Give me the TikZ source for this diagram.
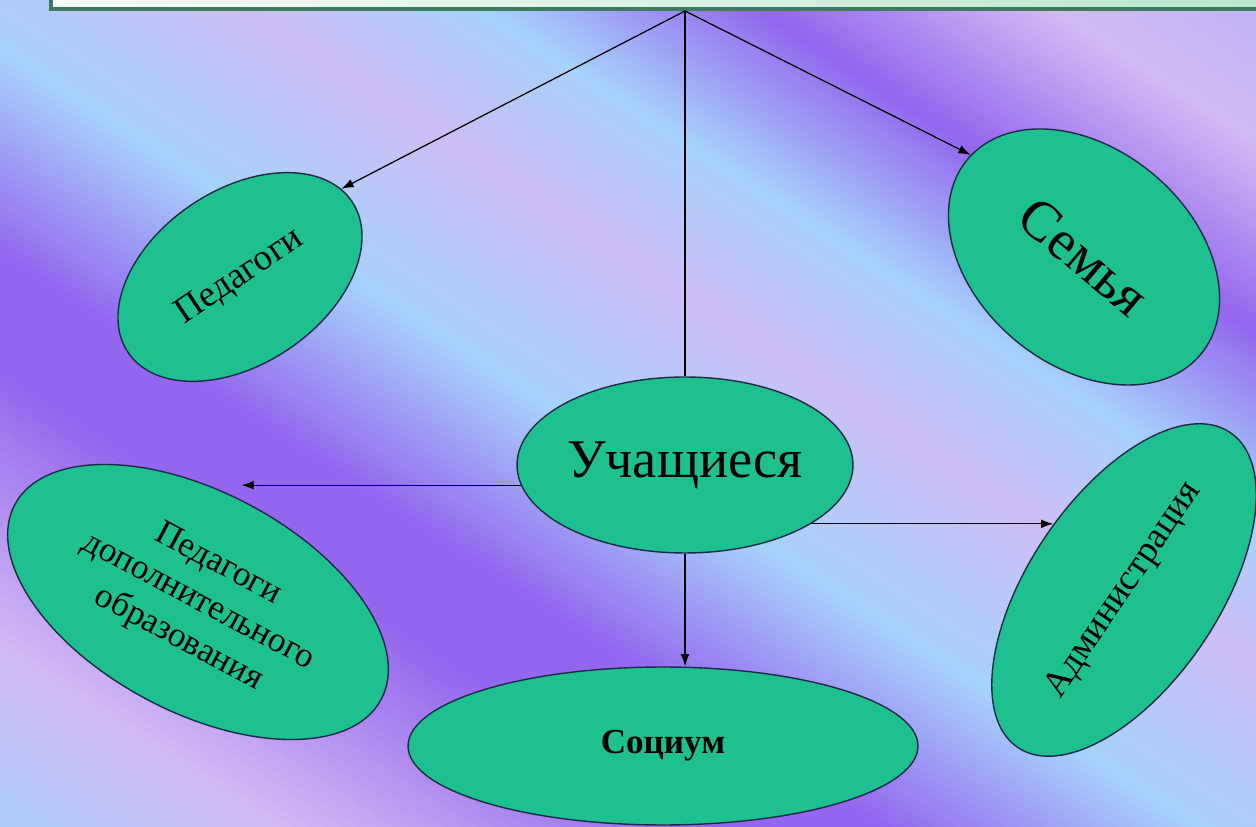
\documentclass[tikz,border=0pt]{standalone}
\usepackage{fontspec}
\setmainfont{Liberation Serif}
\usepackage{tikz}
\usetikzlibrary{shapes.geometric}
\usetikzlibrary{arrows.meta}
\usepackage{xcolor}
\definecolor{bgA}{HTML}{ABCDF8}
\definecolor{bgB}{HTML}{D3BBF3}
\definecolor{bgC}{HTML}{9466EE}
\definecolor{bgD}{HTML}{A6D2FB}
\definecolor{bgE}{HTML}{CDBEF5}
\definecolor{bgF}{HTML}{B9AEF5}
\definecolor{bubblefill}{HTML}{1FC08F}
\definecolor{bubbleline}{HTML}{1B2A48}
\definecolor{boxline}{HTML}{3E7A5E}
\definecolor{boxL}{HTML}{F6FCF8}
\definecolor{boxR}{HTML}{B9E6CC}
\tikzset{
  bubble/.style={ellipse, draw=bubbleline, fill=bubblefill, line width=0.8pt, inner sep=0pt, align=center},
  link/.style={black, line width=0.7pt}
}

\begin{document}
\begin{tikzpicture}[x=0.02cm, y=0.02cm, >={Latex[length=7pt,width=5pt]}]
  \useasboundingbox (0,0) rectangle (1256,827);
  % background bands
  \begin{scope}
    \clip (0,0) rectangle (1256,827);
    \begin{scope}[rotate=57]
      \foreach \sa/\sb/\ca/\cb in {0/150/bgA/bgB, 150/380/bgB/bgC, 380/480/bgC/bgC, 480/650/bgC/bgD,
          650/820/bgD/bgE, 820/950/bgE/bgD, 950/1100/bgD/bgC, 1100/1260/bgC/bgB, 1260/1420/bgB/bgF}{
        \foreach \k in {0,...,24}{
          \pgfmathsetmacro\ua{\sa+(\sb-\sa)*\k/25}
          \pgfmathsetmacro\ub{\sa+(\sb-\sa)*(\k+1)/25+1}
          \pgfmathtruncatemacro\pc{\k*4+2}
          \fill[\cb!\pc!\ca] (\ua,-1060) rectangle (\ub,460);
        }
      }
    \end{scope}
    \node[draw=boxline, line width=2pt, left color=boxL, right color=boxR, anchor=south west,
      minimum width=25cm, minimum height=1cm, inner sep=0pt] (head) at (49,816) {};
  \end{scope}

  \node[bubble, minimum width=6.72cm, minimum height=3.52cm, font=\fontsize{31}{34}\selectfont]
    (stud) at (685,362) {Учащиеся};
  \node[bubble, minimum width=5.4cm, minimum height=3.48cm, rotate=34, font=\fontsize{21}{24}\selectfont]
    (ped) at (240,550) {Педагоги};
  \node[bubble, minimum width=6.08cm, minimum height=4.32cm, rotate=-40, font=\fontsize{32}{36}\selectfont]
    (fam) at (1084,570) {Семья};
  \node[bubble, minimum width=8.3cm, minimum height=4.4cm, rotate=-28, font=\fontsize{20}{24}\selectfont]
    (pdo) at (198,225) {Педагоги\\ дополнительного\\ образования};
  \node[bubble, minimum width=7.6cm, minimum height=3.8cm, rotate=56, font=\fontsize{21}{24}\selectfont]
    (adm) at (1124,237) {Администрация};
  \node[bubble, minimum width=10.2cm, minimum height=3.16cm, font=\fontsize{20}{23}\selectfont\bfseries]
    (soc) at (663,81) {Социум};

  \draw[link] (head.south -| stud) -- (stud.north);
  \draw[link, ->] (head.south -| stud) -- (ped.7);
  \draw[link, ->] (head.south -| stud) -- (fam.178);
  \draw[link, ->] (stud.south) -- (stud.south |- soc.north);
  \draw[link, ->] (stud.187.5) -- (stud.187.5 -| pdo.95);
  \draw[link, ->] (stud.-25.6) -- (stud.-25.6 -| adm.81);
\end{tikzpicture}
\end{document}
